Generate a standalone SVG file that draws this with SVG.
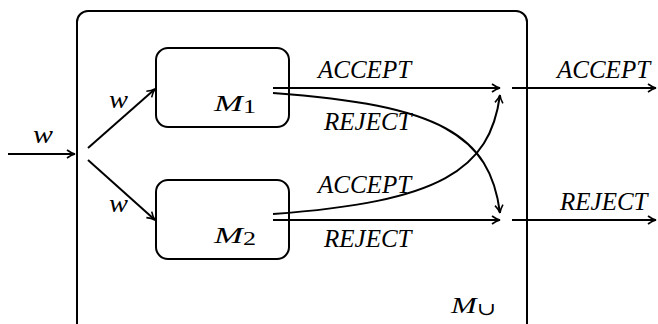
<svg xmlns="http://www.w3.org/2000/svg" width="658" height="324" viewBox="0 0 658 324">
<style>
.b{fill:none;stroke:#000;stroke-width:2}
.c{fill:none;stroke:#000;stroke-width:2;marker-end:url(#ah)}
text{font-family:'Liberation Serif','DejaVu Serif',serif;font-style:italic;fill:#000}
.t{font-size:25px}
.m{font-size:24px}
.w{font-size:25px}
.s{font-style:normal;font-size:18px}
</style>
<defs>
<marker id="ah" viewBox="0 0 10 10" refX="9" refY="5" markerWidth="10" markerHeight="10" markerUnits="userSpaceOnUse" orient="auto">
<path d="M1,1 Q5,4 9,5 Q5,6 1,9" fill="none" stroke="#000" stroke-width="1.6"/>
</marker>
</defs>
<g id="outer"><rect class="b" x="77" y="11" width="450" height="330" rx="11"/>
<text class="m" x="451" y="313" textLength="45" lengthAdjust="spacingAndGlyphs">M<tspan class="s" dy="2">∪</tspan></text></g>
<g id="m1"><rect class="b" x="156" y="48" width="133" height="79" rx="12"/>
<text class="m" x="214" y="111" textLength="42" lengthAdjust="spacingAndGlyphs">M<tspan class="s" dy="2">1</tspan></text></g>
<g id="m2"><rect class="b" x="156" y="180" width="133" height="79" rx="12"/>
<text class="m" x="214" y="243" textLength="42" lengthAdjust="spacingAndGlyphs">M<tspan class="s" dy="2">2</tspan></text></g>
<g id="connectors">
<path class="c" d="M8,154 H75"/>
<path class="c" d="M88,148 L155,89"/>
<path class="c" d="M88,160 L155,220"/>
<path class="c" d="M273,88 H500"/>
<path class="c" d="M273,220 H500"/>
<path class="c" d="M273,93 C440,105 490,135 500,213"/>
<path class="c" d="M273,214 C440,202 490,170 500,95"/>
<path class="c" d="M512,88 H656"/>
<path class="c" d="M512,220 H656"/>
</g>
<g id="labels">
<text class="w" x="33" y="143" textLength="20" lengthAdjust="spacingAndGlyphs">w</text>
<text class="w" x="109" y="108" textLength="19" lengthAdjust="spacingAndGlyphs">w</text>
<text class="w" x="109" y="212" textLength="19" lengthAdjust="spacingAndGlyphs">w</text>
<text class="t" x="318" y="78">ACCEPT</text>
<text class="t" x="324" y="130">REJECT</text>
<text class="t" x="318" y="193">ACCEPT</text>
<text class="t" x="324" y="247">REJECT</text>
<text class="t" x="557" y="78">ACCEPT</text>
<text class="t" x="560" y="210">REJECT</text>
</g>
</svg>
